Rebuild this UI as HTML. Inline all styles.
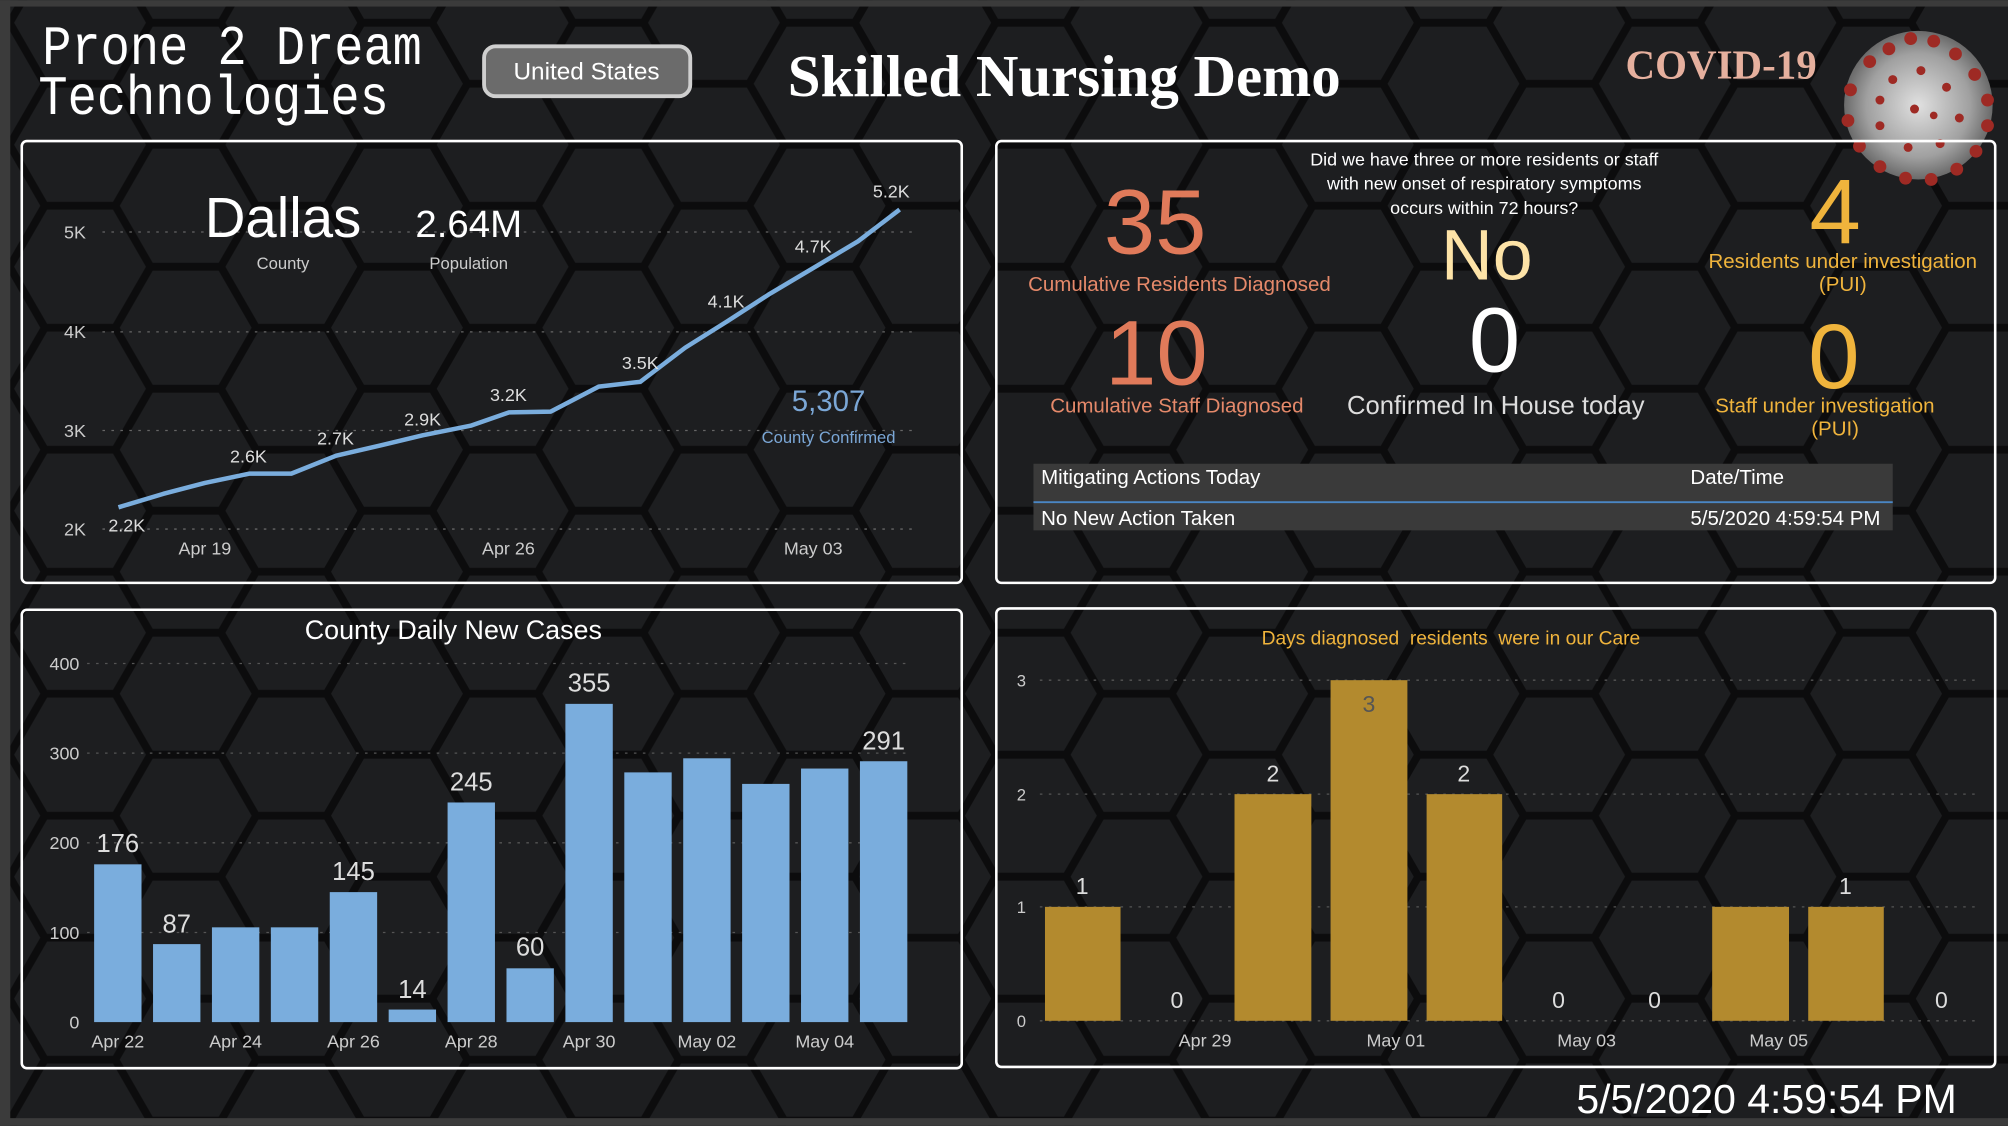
<!DOCTYPE html>
<html><head><meta charset="utf-8"><style>
html,body{margin:0;padding:0;background:#1c1d1f;overflow:hidden}
svg{display:block}
text{font-family:"Liberation Sans",sans-serif}
</style></head><body>
<svg width="2008" height="1126" viewBox="0 0 1568 879" xmlns="http://www.w3.org/2000/svg">
<defs>
<pattern id="hex" width="165" height="95.26" patternUnits="userSpaceOnUse" x="-20" y="-30">
<rect width="165" height="95.26" fill="#1d1e20"/>
<g fill="none" stroke="#0c0c0d" stroke-width="6">
<path d="M-55,0 L-27.5,-47.63 L27.5,-47.63 L55,0 L27.5,47.63 L-27.5,47.63 Z"/>
<path d="M110,0 L137.5,-47.63 L192.5,-47.63 L220,0 L192.5,47.63 L137.5,47.63 Z"/>
<path d="M-55,95.26 L-27.5,47.63 L27.5,47.63 L55,95.26 L27.5,142.89 L-27.5,142.89 Z"/>
<path d="M110,95.26 L137.5,47.63 L192.5,47.63 L220,95.26 L192.5,142.89 L137.5,142.89 Z"/>
<path d="M27.5,47.63 L55,0 L110,0 L137.5,47.63 L110,95.26 L55,95.26 Z"/>
</g>
</pattern>
<radialGradient id="vir" cx="50%" cy="50%" r="50%">
<stop offset="0" stop-color="#e0e0e0"/><stop offset="0.7" stop-color="#a0a0a0"/><stop offset="1" stop-color="#6a6a6a"/>
</radialGradient>
</defs>
<rect width="1568" height="879" fill="url(#hex)"/>
<rect x="0" y="0" width="1568" height="5" fill="#3b3b3b"/>
<rect x="0" y="0" width="8" height="879" fill="#3b3b3b"/>
<rect x="0" y="873" width="1568" height="6" fill="#3b3b3b"/>

<g transform="translate(33,50) scale(1,1.15)"><text x="0" y="0" font-size="38" fill="#fff" style="font-family:'Liberation Mono',monospace">Prone 2 Dream</text></g>
<g transform="translate(30,89) scale(1,1.15)"><text x="0" y="0" font-size="38" fill="#fff" style="font-family:'Liberation Mono',monospace">Technologies</text></g>
<rect x="378" y="36" width="161" height="39" rx="9" fill="#6b6b6b" stroke="#cfcfcf" stroke-width="3"/>
<text x="458" y="62" font-size="19" fill="#fff" text-anchor="middle">United States</text>
<text x="831" y="75" font-size="46" font-weight="bold" fill="#fff" text-anchor="middle" style="font-family:'Liberation Serif',serif">Skilled Nursing Demo</text>
<text x="1344" y="61" font-size="32" font-weight="bold" fill="#e6b09e" text-anchor="middle" style="font-family:'Liberation Serif',serif">COVID-19</text>
<g>
<circle cx="1498" cy="82" r="58" fill="url(#vir)"/>
<g fill="#9e2a24">
<circle cx="1460" cy="48" r="5"/><circle cx="1475" cy="38" r="5"/><circle cx="1492" cy="30" r="5"/><circle cx="1510" cy="32" r="5"/><circle cx="1527" cy="42" r="5"/><circle cx="1542" cy="58" r="5"/><circle cx="1552" cy="78" r="5"/><circle cx="1552" cy="98" r="5"/><circle cx="1543" cy="118" r="5"/><circle cx="1528" cy="132" r="5"/><circle cx="1508" cy="140" r="5"/><circle cx="1488" cy="139" r="5"/><circle cx="1468" cy="130" r="5"/><circle cx="1452" cy="114" r="5"/><circle cx="1443" cy="94" r="5"/><circle cx="1445" cy="70" r="5"/>
<circle cx="1478" cy="62" r="3.5"/><circle cx="1500" cy="55" r="3.5"/><circle cx="1520" cy="68" r="3.5"/><circle cx="1530" cy="92" r="3.5"/><circle cx="1515" cy="112" r="3.5"/><circle cx="1490" cy="115" r="3.5"/><circle cx="1468" cy="98" r="3.5"/><circle cx="1468" cy="78" r="3.5"/><circle cx="1495" cy="85" r="3.5"/><circle cx="1510" cy="90" r="3"/>
</g>
</g>

<g fill="none" stroke="#fff" stroke-width="2">
<rect x="17" y="110" width="734" height="345" rx="4"/>
<rect x="778" y="110" width="780" height="345" rx="4"/>
<rect x="17" y="476" width="734" height="358" rx="4"/>
<rect x="778" y="475" width="780" height="358" rx="4"/>
</g>

<g stroke="#666" stroke-width="1" stroke-dasharray="2,5">
<line x1="80" x2="715" y1="181" y2="181"/><line x1="80" x2="715" y1="259" y2="259"/><line x1="80" x2="715" y1="336" y2="336"/><line x1="80" x2="715" y1="413" y2="413"/>
</g>
<g font-size="14" fill="#ccc">
<text x="50" y="186">5K</text><text x="50" y="264">4K</text><text x="50" y="341">3K</text><text x="50" y="418">2K</text>
<text x="160" y="433" text-anchor="middle">Apr 19</text><text x="397" y="433" text-anchor="middle">Apr 26</text><text x="635" y="433" text-anchor="middle">May 03</text>
</g>
<polyline fill="none" stroke="#7aaddd" stroke-width="3.5" stroke-linejoin="round" points="92.5,396 127.5,385.5 160,377 195,369.7 227.5,369.7 262.5,355.7 297.5,347.6 330,339.8 367.5,332.3 397.5,321.9 430,321.3 467.5,301.8 500,298 535,271.4 567.5,251 600,230 635,209.2 670,188.3 702.5,163.5"/>
<g font-size="14" fill="#ddd" text-anchor="middle">
<text x="99" y="415">2.2K</text><text x="194" y="361">2.6K</text><text x="262" y="347">2.7K</text><text x="330" y="332">2.9K</text><text x="397" y="313">3.2K</text><text x="500" y="288">3.5K</text><text x="567" y="240">4.1K</text><text x="635" y="197">4.7K</text><text x="696" y="154">5.2K</text>
</g>
<text x="221" y="185" font-size="44" fill="#fff" text-anchor="middle">Dallas</text>
<text x="221" y="210" font-size="13" fill="#ccc" text-anchor="middle">County</text>
<text x="366" y="185" font-size="30" fill="#fff" text-anchor="middle">2.64M</text>
<text x="366" y="210" font-size="13" fill="#ccc" text-anchor="middle">Population</text>
<text x="647" y="321" font-size="23" fill="#7ba7d6" text-anchor="middle">5,307</text>
<text x="647" y="346" font-size="13" fill="#7ba7d6" text-anchor="middle">County Confirmed</text>

<g font-size="14" fill="#fff" text-anchor="middle">
<text x="1159" y="129">Did we have three or more residents or staff</text>
<text x="1159" y="148">with new onset of respiratory symptoms</text>
<text x="1159" y="167">occurs within 72 hours?</text>
</g>
<text x="902" y="198" font-size="72" fill="#e07a5a" text-anchor="middle">35</text>
<text x="921" y="227" font-size="16" fill="#e5896a" text-anchor="middle">Cumulative Residents Diagnosed</text>
<text x="1161" y="218" font-size="56" fill="#fde3a7" text-anchor="middle">No</text>
<text x="1433" y="190" font-size="72" fill="#f0b43c" text-anchor="middle">4</text>
<text x="1439" y="209" font-size="16" fill="#f0b43c" text-anchor="middle">Residents under investigation</text>
<text x="1439" y="227" font-size="16" fill="#f0b43c" text-anchor="middle">(PUI)</text>
<text x="903" y="300" font-size="72" fill="#e07a5a" text-anchor="middle">10</text>
<text x="919" y="322" font-size="16" fill="#e5896a" text-anchor="middle">Cumulative Staff Diagnosed</text>
<text x="1167" y="290" font-size="72" fill="#fff" text-anchor="middle">0</text>
<text x="1168" y="323" font-size="20" fill="#ddd" text-anchor="middle">Confirmed In House today</text>
<text x="1432" y="303" font-size="72" fill="#f0b43c" text-anchor="middle">0</text>
<text x="1425" y="322" font-size="16" fill="#f0b43c" text-anchor="middle">Staff under investigation</text>
<text x="1433" y="340" font-size="16" fill="#f0b43c" text-anchor="middle">(PUI)</text>
<rect x="807" y="362" width="671" height="52" fill="#3a3a3a"/>
<line x1="807" x2="1478" y1="392" y2="392" stroke="#4a86c4" stroke-width="1.5"/>
<g font-size="16" fill="#fff">
<text x="813" y="378">Mitigating Actions Today</text><text x="1320" y="378">Date/Time</text>
<text x="813" y="410">No New Action Taken</text><text x="1320" y="410">5/5/2020 4:59:54 PM</text>
</g>

<text x="354" y="499" font-size="21" fill="#fff" text-anchor="middle">County Daily New Cases</text>
<g stroke="#555" stroke-width="1" stroke-dasharray="2,5">
<line x1="68" x2="710" y1="518" y2="518"/><line x1="68" x2="710" y1="588" y2="588"/><line x1="68" x2="710" y1="658" y2="658"/><line x1="68" x2="710" y1="728" y2="728"/>
</g>
<g font-size="14" fill="#ccc" text-anchor="end">
<text x="62" y="523">400</text><text x="62" y="593">300</text><text x="62" y="663">200</text><text x="62" y="733">100</text><text x="62" y="803">0</text>
</g>
<g fill="#7aaddd">
<rect x="73.5" y="674.8" width="37" height="123.2"/>
<rect x="119.5" y="737.1" width="37" height="60.9"/>
<rect x="165.5" y="724" width="37" height="74"/>
<rect x="211.5" y="724" width="37" height="74"/>
<rect x="257.5" y="696.5" width="37" height="101.5"/>
<rect x="303.5" y="788.2" width="37" height="9.8"/>
<rect x="349.5" y="626.5" width="37" height="171.5"/>
<rect x="395.5" y="756" width="37" height="42"/>
<rect x="441.5" y="549.5" width="37" height="248.5"/>
<rect x="487.5" y="603" width="37" height="195"/>
<rect x="533.5" y="592" width="37" height="206"/>
<rect x="579.5" y="612" width="37" height="186"/>
<rect x="625.5" y="600" width="37" height="198"/>
<rect x="671.5" y="594.3" width="37" height="203.7"/>
</g>
<g font-size="20" fill="#ddd" text-anchor="middle">
<text x="92" y="665">176</text><text x="138" y="728">87</text><text x="276" y="687">145</text><text x="322" y="779">14</text><text x="368" y="617">245</text><text x="414" y="746">60</text><text x="460" y="540">355</text><text x="690" y="585">291</text>
</g>
<g font-size="14" fill="#ccc" text-anchor="middle">
<text x="92" y="818">Apr 22</text><text x="184" y="818">Apr 24</text><text x="276" y="818">Apr 26</text><text x="368" y="818">Apr 28</text><text x="460" y="818">Apr 30</text><text x="552" y="818">May 02</text><text x="644" y="818">May 04</text>
</g>

<text x="1133" y="503" font-size="15" fill="#f0b43c" text-anchor="middle" xml:space="preserve" style="white-space:pre">Days diagnosed  residents  were in our Care</text>
<g stroke="#555" stroke-width="1" stroke-dasharray="2,5">
<line x1="812" x2="1542" y1="531" y2="531"/><line x1="812" x2="1542" y1="620" y2="620"/><line x1="812" x2="1542" y1="708" y2="708"/><line x1="812" x2="1542" y1="797" y2="797"/>
</g>
<g font-size="13" fill="#ccc">
<text x="794" y="536">3</text><text x="794" y="625">2</text><text x="794" y="713">1</text><text x="794" y="802">0</text>
</g>
<g fill="#b38a2e">
<rect x="816" y="708" width="59" height="89"/>
<rect x="964" y="620" width="60" height="177"/>
<rect x="1039" y="531" width="60" height="266"/>
<rect x="1114" y="620" width="59" height="177"/>
<rect x="1337" y="708" width="60" height="89"/>
<rect x="1412" y="708" width="59" height="89"/>
</g>
<g font-size="18" fill="#ddd" text-anchor="middle">
<text x="845" y="698">1</text><text x="919" y="787">0</text><text x="994" y="610">2</text><text x="1143" y="610">2</text><text x="1217" y="787">0</text><text x="1292" y="787">0</text><text x="1441" y="698">1</text><text x="1516" y="787">0</text>
</g>
<text x="1069" y="556" font-size="18" fill="#555" text-anchor="middle">3</text>
<g font-size="14" fill="#ccc" text-anchor="middle">
<text x="941" y="817">Apr 29</text><text x="1090" y="817">May 01</text><text x="1239" y="817">May 03</text><text x="1389" y="817">May 05</text>
</g>

<text x="1528" y="869" font-size="32" fill="#fff" text-anchor="end">5/5/2020 4:59:54 PM</text>
</svg>
</body></html>
